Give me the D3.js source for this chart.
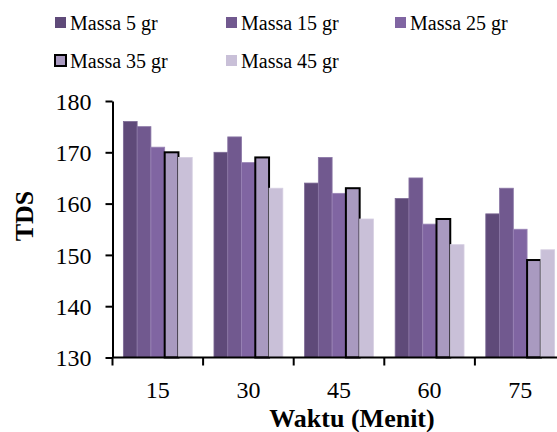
<!DOCTYPE html>
<html>
<head>
<meta charset="utf-8">
<script src="https://cdn.jsdelivr.net/npm/d3@7"></script>
<style>
body{margin:0;background:#fff;}
</style>
</head>
<body>
<svg id="chart" width="557" height="432"></svg>
<script>
// data
var categories = ["15","30","45","60","75"];
var seriesNames = ["Massa 5 gr","Massa 15 gr","Massa 25 gr","Massa 35 gr","Massa 45 gr"];
var massa5 = [176,170,164,161,158];
var massa15 = [175,173,169,165,163];
var massa25 = [171,168,162,156,155];
var massa35 = [170,169,163,157,149];
var massa45 = [169,163,157,152,151];
var yTicks = [130,140,150,160,170,180];

var allSeries = [massa5,massa15,massa25,massa35,massa45];
var colors = ["#5f4a79","#71598f","#8065a2","#a99ac0","#c9c0d8"];
var edges = ["#7d6a95","#8b77a6","#9a84b6","#a99ac0","#d6cfe2"];
var serif = "\"Liberation Serif\", \"Times New Roman\", serif";

const svg = d3.select("#chart");

var x = d3.scaleBand()
	.domain(categories)
	.range([112.5, 565.5])
	.paddingInner(0.24)
	.paddingOuter(0.12);

var xSub = d3.scaleBand()
	.domain(d3.range(seriesNames.length))
	.range([0, x.bandwidth()]);

var y = d3.scaleLinear()
	.domain([130,180])
	.range([357.5,101]);

// bars
var groups = svg.selectAll(".grp")
	.data(categories)
	.enter()
	.append("g")
	.attr("class","grp")
	.attr("transform",function(d){return "translate("+x(d)+",0)";});

groups.selectAll("rect")
	.data(function(d,i){
		return allSeries.map(function(s,j){return {s:j,v:s[i]};});
	})
	.enter()
	.append("rect")
	.attr("x",function(d){return xSub(d.s);})
	.attr("y",function(d){return y(d.v);})
	.attr("width",xSub.bandwidth())
	.attr("height",function(d){return y(130)-y(d.v);})
	.attr("fill",function(d){return colors[d.s];})
	.attr("stroke",function(d){return d.s==3 ? "#000" : edges[d.s];})
	.attr("stroke-width",function(d){return d.s==3 ? 2 : 0.8;});

// y axis
var yAxis = d3.axisLeft(y)
	.tickValues(yTicks)
	.tickSize(7)
	.tickSizeOuter(0)
	.tickPadding(14);

var yG = svg.append("g")
	.attr("transform","translate(112.5,0)")
	.call(yAxis)
	.attr("font-family",serif);
yG.selectAll("text")
	.attr("font-family",serif)
	.attr("font-size",24)
	.attr("fill","#000")
	.attr("dy","0.34em");
yG.select(".domain").attr("stroke-width",2);
yG.selectAll(".tick line").attr("stroke-width",2);

// x axis with ticks at band edges
var xAxisG = svg.append("g")
	.attr("transform","translate(0,357.5)");
xAxisG.append("line")
	.attr("x1",112.5).attr("x2",557)
	.attr("stroke","#000").attr("stroke-width",2);
var edgesX = categories.map(function(d){return x(d)-x.step()*x.paddingInner()/2;});
xAxisG.selectAll(".tk")
	.data(edgesX)
	.enter()
	.append("line")
	.attr("class","tk")
	.attr("x1",function(d){return d;})
	.attr("x2",function(d){return d;})
	.attr("y1",0).attr("y2",8)
	.attr("stroke","#000").attr("stroke-width",2);
xAxisG.selectAll(".lbl")
	.data(categories)
	.enter()
	.append("text")
	.attr("class","lbl")
	.attr("x",function(d){return x(d)+x.bandwidth()/2;})
	.attr("y",40.5)
	.attr("text-anchor","middle")
	.attr("font-family",serif)
	.attr("font-size",24)
	.text(function(d){return d;});

// axis titles
svg.append("text")
	.attr("transform","translate(33,216) rotate(-90)")
	.attr("text-anchor","middle")
	.attr("font-family",serif)
	.attr("font-size",26)
	.attr("font-weight","bold")
	.text("TDS");

svg.append("text")
	.attr("x",352)
	.attr("y",427)
	.attr("text-anchor","middle")
	.attr("font-family",serif)
	.attr("font-size",26)
	.attr("font-weight","bold")
	.text("Waktu (Menit)");

// legend
var legendPos = [[55,22.5],[226,22.5],[395,22.5],[55,60.5],[226,60.5]];
var legend = svg.selectAll(".leg")
	.data(seriesNames)
	.enter()
	.append("g")
	.attr("class","leg")
	.attr("transform",function(d,i){return "translate("+legendPos[i][0]+","+legendPos[i][1]+")";});

legend.append("rect")
	.attr("x",0).attr("y",-5.5)
	.attr("width",11).attr("height",11)
	.attr("fill",function(d,i){return colors[i];})
	.attr("stroke",function(d,i){return i==3 ? "#000" : "none";})
	.attr("stroke-width",2);

legend.append("text")
	.attr("x",15)
	.attr("y",7)
	.attr("font-family",serif)
	.attr("font-size",20)
	.text(function(d){return d;});
</script>
</body>
</html>
